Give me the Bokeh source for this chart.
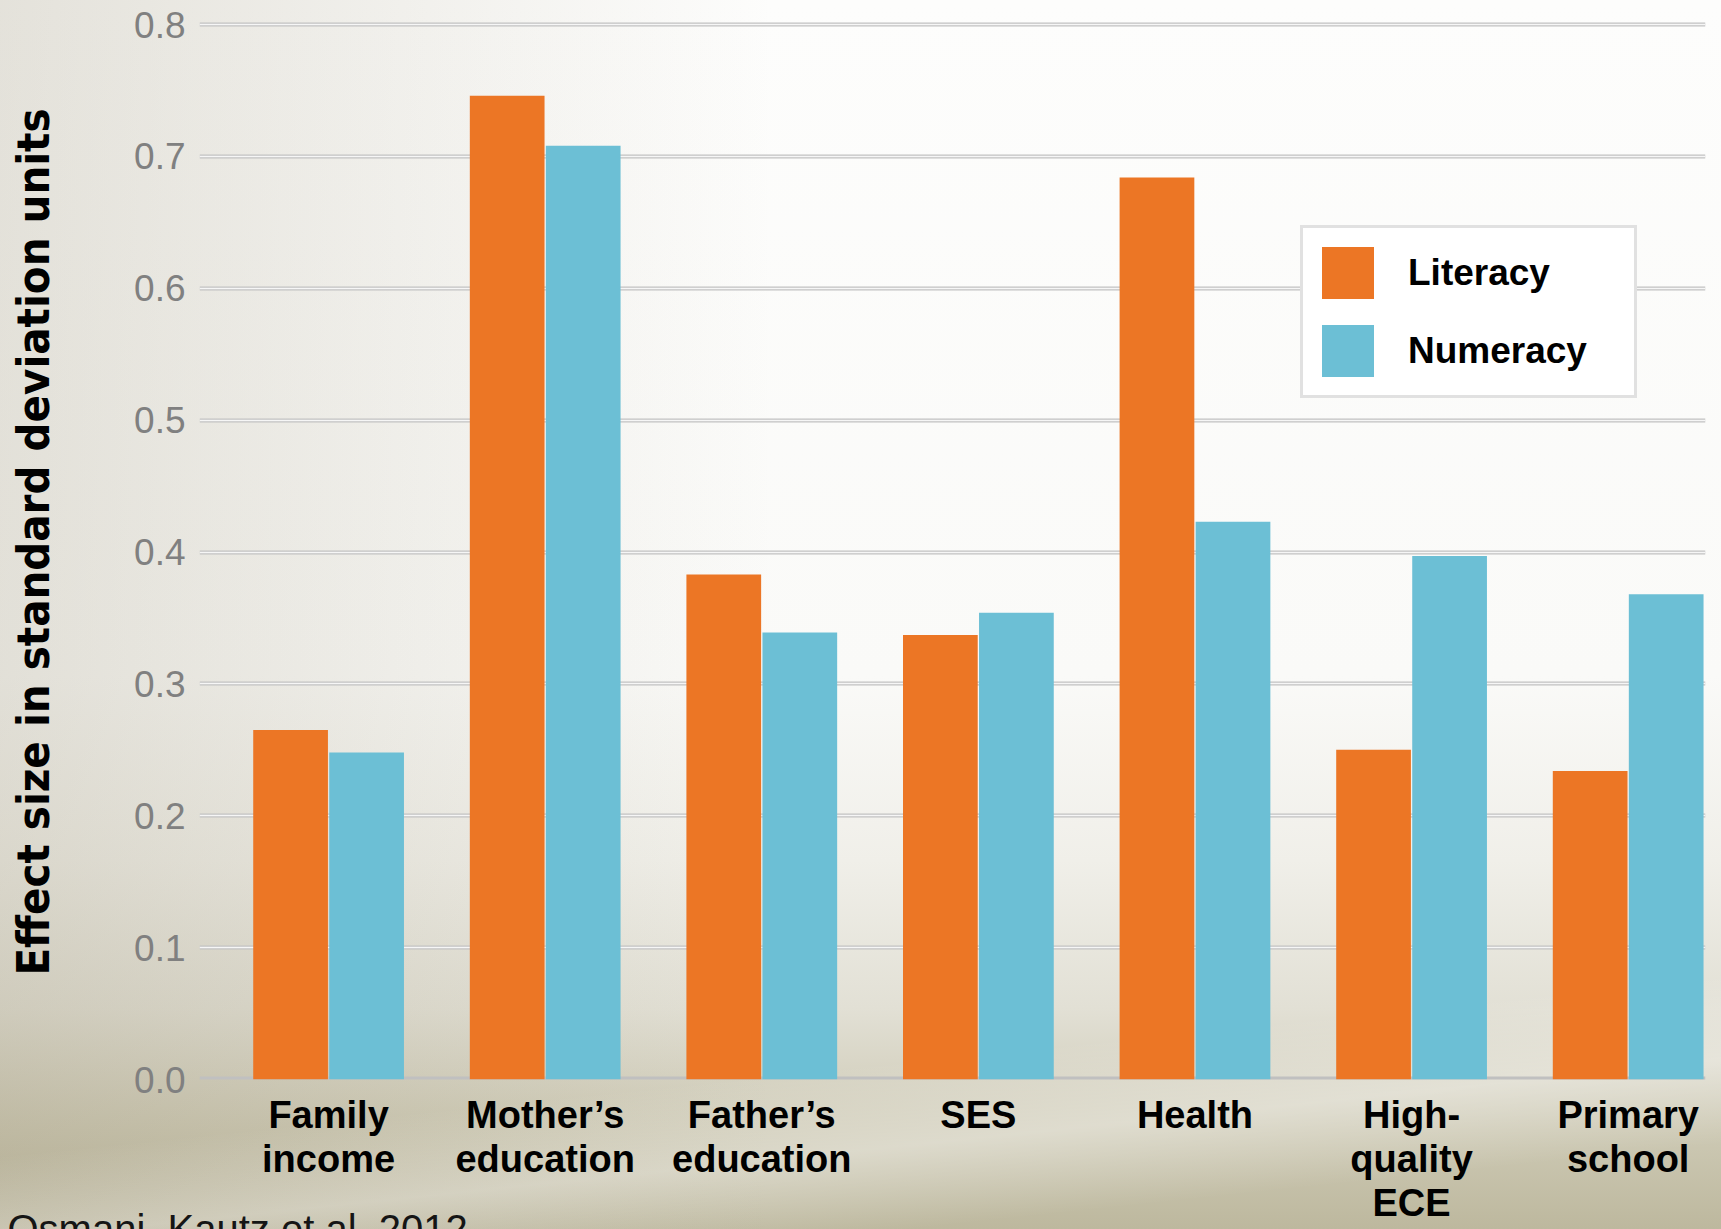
from bokeh.plotting import figure
from bokeh.models import FixedTicker, Span, Legend, LegendItem, Grid, ColumnDataSource, Title
from bokeh.transform import dodge
from bokeh.embed import file_html
from bokeh.resources import INLINE

categories = ["Family\nincome", "Mother\u2019s\neducation", "Father\u2019s\neducation", "SES",
              "Health", "High-\nquality\nECE", "Primary\nschool"]
literacy = [0.265, 0.746, 0.383, 0.337, 0.684, 0.250, 0.234]
numeracy = [0.248, 0.708, 0.339, 0.354, 0.423, 0.397, 0.368]
y_ticks = [0.0, 0.1, 0.2, 0.3, 0.4, 0.5, 0.6, 0.7, 0.8]
y_tick_labels = ["0.0", "0.1", "0.2", "0.3", "0.4", "0.5", "0.6", "0.7", "0.8"]
series_names = ["Literacy", "Numeracy"]
y_title = "Effect size in standard deviation units"
source_note = "Osmani, Kautz et al. 2012"

ORANGE = "#EC7625"
BLUE = "#6CBFD5"

idx = list(range(len(categories)))
src = ColumnDataSource(dict(x=idx, lit=literacy, num=numeracy))

p = figure(width=1721, height=1229, output_backend="svg", toolbar_location=None,
           x_range=(-0.596, 6.357), y_range=(0.0, 0.8152),
           min_border_left=199, min_border_right=16, min_border_top=4, min_border_bottom=150)

p.background_fill_color = None
p.border_fill_color = None
p.outline_line_color = None
p.styles = {"background": (
    "linear-gradient(174deg, rgba(255,255,255,0) 82%, rgba(255,255,255,0.35) 88%, rgba(255,255,255,0) 94%),"
    "linear-gradient(to right, rgba(140,130,100,0.22) 0%, rgba(140,130,100,0) 45%),"
    "linear-gradient(to bottom, #fdfdfc 0%, #fafaf8 55%, #f0efe9 70%, #e2e0d5 82%, #cdc9b4 92%, #bdb89e 100%)"
)}

# grid: double line effect
p.xgrid.visible = False
p.ygrid.ticker = FixedTicker(ticks=y_ticks[1:])
p.ygrid.grid_line_color = "#c2c2c2"
p.ygrid.grid_line_width = 4
g2 = Grid(dimension=1, ticker=FixedTicker(ticks=y_ticks[1:]),
          grid_line_color="#f6f6f6", grid_line_width=1.3)
p.add_layout(g2)

p.add_layout(Span(location=0, dimension="width", line_color="#c0c0c0",
                  line_width=6, level="underlay"))

r1 = p.vbar(x=dodge("x", -0.1755, range=p.x_range), top="lit", width=0.345,
            source=src, fill_color=ORANGE, line_color=None)
r2 = p.vbar(x=dodge("x", 0.1755, range=p.x_range), top="num", width=0.345,
            source=src, fill_color=BLUE, line_color=None)

# y axis
ya = p.yaxis[0]
ya.ticker = FixedTicker(ticks=y_ticks)
ya.major_label_overrides = {t: s for t, s in zip(y_ticks, y_tick_labels)}
ya.axis_line_color = None
ya.major_tick_line_color = None
ya.minor_tick_line_color = None
ya.major_label_text_font = "Liberation Sans"
ya.major_label_text_font_size = "37px"
ya.major_label_text_color = "#808080"
ya.major_label_standoff = 8
ya.axis_label = y_title
ya.axis_label_text_font = "DejaVu Sans Condensed"
ya.axis_label_text_font_style = "bold"
ya.axis_label_text_font_size = "45px"
ya.axis_label_text_color = "#000000"
ya.axis_label_standoff = 71

# x axis
xa = p.xaxis[0]
xa.ticker = FixedTicker(ticks=idx)
xa.major_label_overrides = {i: c for i, c in zip(idx, categories)}
xa.axis_line_color = None
xa.major_tick_line_color = None
xa.minor_tick_line_color = None
xa.major_label_text_font = "Liberation Sans"
xa.major_label_text_font_style = "bold"
xa.major_label_text_font_size = "38px"
xa.major_label_text_color = "#000000"
xa.major_label_text_line_height = 1.05
xa.major_label_standoff = 8

legend = Legend(items=[LegendItem(label=series_names[0], renderers=[r1]),
                       LegendItem(label=series_names[1], renderers=[r2])],
                location=(1101, 681))
legend.glyph_width = 65
legend.glyph_height = 65
legend.label_standoff = 28
legend.padding = 12
legend.spacing = 13
legend.margin = 0
legend.label_width = 214
legend.label_text_font = "Liberation Sans"
legend.label_text_font_style = "bold"
legend.label_text_font_size = "37px"
legend.label_text_color = "#000000"
legend.border_line_color = "#c3c3c3"
legend.border_line_width = 3
legend.background_fill_color = "white"
legend.background_fill_alpha = 1
p.add_layout(legend)

# source note: zero-size title panel below the x axis
note = Title(text=source_note, align="left", vertical_align="bottom", offset=-192, standoff=-48,
             text_font="Liberation Sans", text_font_size="40px", text_font_style="normal",
             text_color="#151515")
p.add_layout(note, "below")

open("out.html", "w").write(file_html(p, INLINE))
